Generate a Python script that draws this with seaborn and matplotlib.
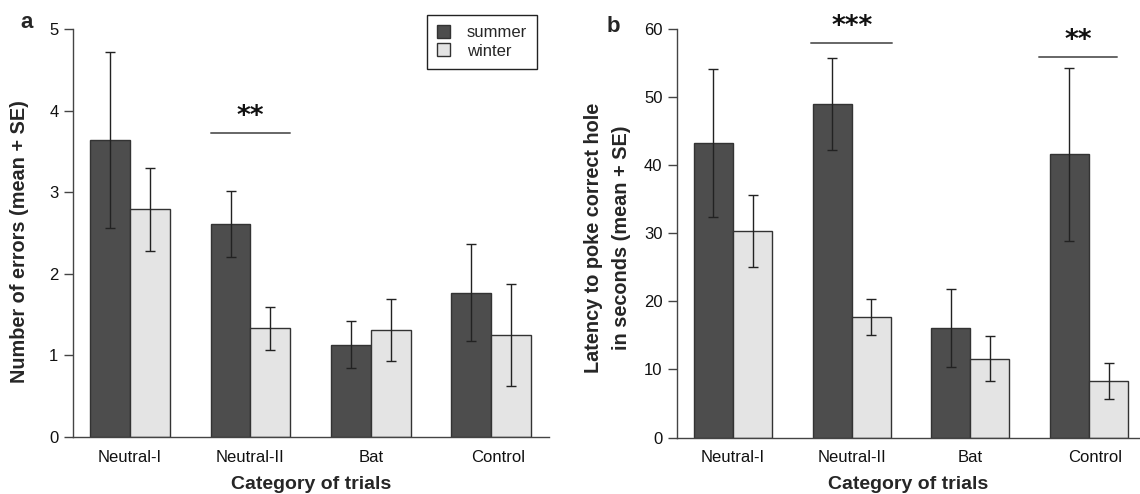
import matplotlib
matplotlib.use('Agg')
import matplotlib.pyplot as plt
import seaborn as sns
import pandas as pd
from matplotlib.patches import Patch

# ---------------- data ----------------
categories = ['Neutral-I', 'Neutral-II', 'Bat', 'Control']
seasons = ['summer', 'winter']

errors_summer = [3.64, 2.61, 1.13, 1.77]
errors_winter = [2.79, 1.33, 1.31, 1.25]
errors_summer_se = [1.08, 0.40, 0.29, 0.59]
errors_winter_se = [0.51, 0.26, 0.38, 0.62]

latency_summer = [43.3, 49.0, 16.1, 41.6]
latency_winter = [30.3, 17.7, 11.6, 8.3]
latency_summer_se = [10.9, 6.8, 5.7, 12.7]
latency_winter_se = [5.3, 2.6, 3.3, 2.6]

# significance annotations: (category index, line y, label)
sig_a = [(1, 3.73, '**')]
sig_b = [(1, 58.0, '***'), (3, 56.0, '**')]

# ---------------- style ----------------
sns.set_theme(style='ticks')
plt.rcParams['font.family'] = ['Liberation Sans', 'DejaVu Sans']

colors = {'summer': '#4d4d4d', 'winter': '#e4e4e4'}
edge = '#333333'
axis_col = '#444444'

fig = plt.figure(figsize=(11.4, 4.94), dpi=100)
W, H = 1140, 494
ax_a = fig.add_axes([73 / W, 1 - 437 / H, (549 - 73) / W, (437 - 29) / H])
ax_b = fig.add_axes([677 / W, 1 - 437.5 / H, (1140 - 677) / W, (437.5 - 29.3) / H])


def make_df(s, w, s_se, w_se):
    rows = []
    for c, v, e in zip(categories, s, s_se):
        rows.append({'cat': c, 'season': 'summer', 'val': v, 'se': e})
    for c, v, e in zip(categories, w, w_se):
        rows.append({'cat': c, 'season': 'winter', 'val': v, 'se': e})
    return pd.DataFrame(rows)


def draw(ax, df, ylim, yticks, xlim, ctrl_shift):
    sns.barplot(data=df, x='cat', y='val', hue='season', order=categories,
                hue_order=seasons, palette=colors, width=0.66, gap=0,
                edgecolor=edge, linewidth=1.0, errorbar=None, ax=ax,
                legend=False, saturation=1)
    for cont, season in zip(ax.containers, seasons):
        sub = df[df['season'] == season].set_index('cat').loc[categories]
        xs = [b.get_x() + b.get_width() / 2 for b in cont]
        ax.errorbar(xs, sub['val'].values, yerr=sub['se'].values, fmt='none',
                    ecolor='#222222', elinewidth=1.0, capsize=3.3,
                    capthick=1.0, zorder=5)
    ax.set_ylim(*ylim)
    ax.set_yticks(yticks)
    ax.set_xlim(*xlim)
    ax.set_xticks([0, 1, 2, 3 + ctrl_shift])
    ax.set_xticklabels(categories)
    for s in ['top', 'right']:
        ax.spines[s].set_visible(False)
    for s in ['left', 'bottom']:
        ax.spines[s].set_color(axis_col)
        ax.spines[s].set_linewidth(1.0)
    ax.tick_params(axis='y', length=6.5, width=1.0, color=axis_col,
                   labelsize=12, pad=4, labelcolor='#111111')
    ax.tick_params(axis='x', length=0, labelsize=12, pad=9,
                   labelcolor='#111111')


df_a = make_df(errors_summer, errors_winter, errors_summer_se, errors_winter_se)
df_b = make_df(latency_summer, latency_winter, latency_summer_se, latency_winter_se)

draw(ax_a, df_a, (0, 5), [0, 1, 2, 3, 4, 5], (-0.474, 3.48), 0.06)
draw(ax_b, df_b, (0, 60), [0, 10, 20, 30, 40, 50, 60], (-0.472, 3.43), 0.05)

ax_a.set_xlabel('Category of trials', fontsize=14, fontweight='bold', labelpad=8)
ax_b.set_xlabel('Category of trials', fontsize=14, fontweight='bold', labelpad=8)
ax_a.set_ylabel('Number of errors (mean + SE)', fontsize=14.3, fontweight='bold')
ax_b.set_ylabel('Latency to poke correct hole\nin seconds (mean + SE)',
                fontsize=14.3, fontweight='bold', linespacing=1.6)
ax_a.yaxis.set_label_coords((29 - 73) / (549 - 73), 0.48)
ax_b.yaxis.set_label_coords((631 - 677) / (1140 - 677), 0.49)

star_font = dict(family=['DejaVu Sans'], fontsize=19, fontweight='bold',
                 color='#111111')

# significance bars
for idx, y, lab in sig_a:
    ax_a.plot([idx - 0.33, idx + 0.33], [y, y], color='#666666', lw=1.4,
              clip_on=False)
    ax_a.text(idx, y + 0.03, lab, ha='center', va='bottom', **star_font)
for idx, y, lab in sig_b:
    if idx == 3:
        x0, x1 = idx - 0.42, idx + 0.24
    else:
        x0, x1 = idx - 0.34, idx + 0.34
    ax_b.plot([x0, x1], [y, y], color='#666666', lw=1.4, clip_on=False)
    ax_b.text((x0 + x1) / 2, y + 0.4, lab, ha='center', va='bottom',
              clip_on=False, **star_font)

# legend
handles = [Patch(facecolor=colors[s], edgecolor=edge, linewidth=1.0, label=s)
           for s in seasons]
leg = fig.legend(handles=handles, loc='upper right',
                 bbox_to_anchor=(537 / W, 1 - 15 / H),
                 bbox_transform=fig.transFigure, frameon=True, fancybox=False,
                 fontsize=12, handlelength=0.8, handleheight=0.8,
                 handletextpad=1.0, borderpad=0.6, labelspacing=0.2,
                 borderaxespad=0)
leg.get_frame().set_edgecolor('#222222')
leg.get_frame().set_linewidth(1.0)
leg.get_frame().set_alpha(1)

# panel letters
fig.text(20 / W, 1 - 22 / H, 'a', fontsize=16, fontweight='bold', va='center',
         ha='left')
fig.text(607 / W, 1 - 27 / H, 'b', fontsize=16, fontweight='bold', va='center',
         ha='left')

fig.savefig('out.png', dpi=100)
